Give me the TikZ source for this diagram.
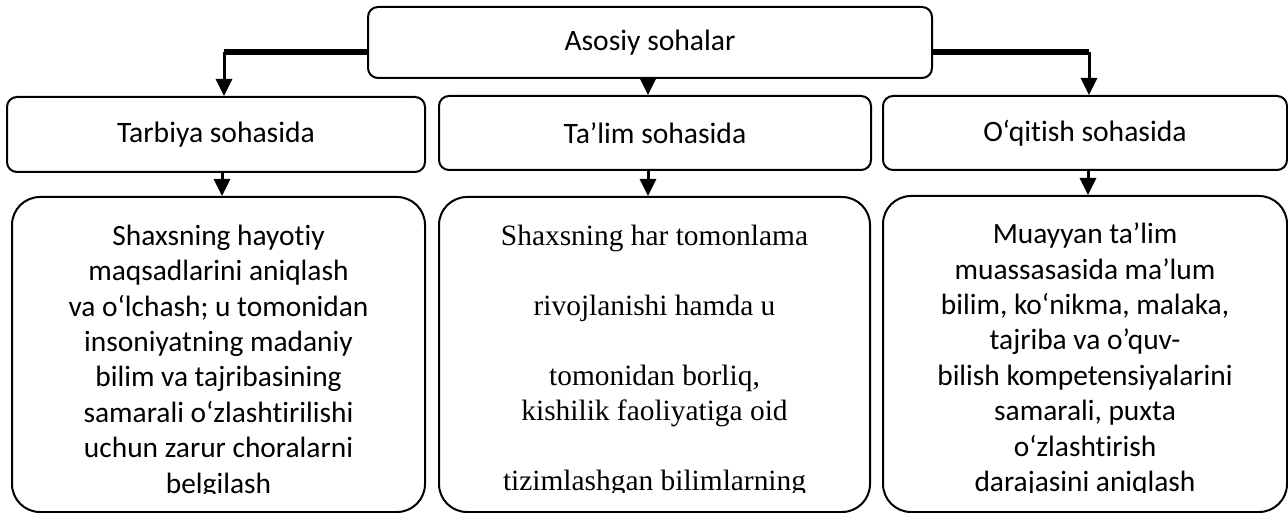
\documentclass[tikz,border=0pt]{standalone}
\usepackage{fontspec}
\setmainfont{Carlito}[Ligatures=NoCommon]
\newfontfamily\serifb{Liberation Serif}
\usetikzlibrary{arrows.meta}
\begin{document}
\begin{tikzpicture}[x=0.5pt,y=-0.5pt,
  box/.style={draw,line width=1pt,rounded corners=5pt,inner sep=0pt,font=\fontsize{14.8}{17}\selectfont},
  bigbox/.style={draw,line width=1pt,rounded corners=14pt,inner sep=0pt},
  body/.style={align=center,inner sep=0pt,anchor=north,font=\fontsize{14.7}{17.7}\selectfont},
  sbody/.style={align=center,inner sep=0pt,anchor=north,font=\serifb\fontsize{14.7}{17.5}\selectfont},
  conn/.style={line width=2.8pt},
  arr/.style={line width=1.5pt,-{Triangle[width=8pt,length=8.5pt]}}]
\useasboundingbox (0,0) rectangle (1288,513);
% top
\node[box,minimum width=282pt,minimum height=35.5pt] (top) at (650,42.5) {Asosiy sohalar};
% second row
\node[box,minimum width=209pt,minimum height=37.5pt] (tar) at (216,134.5) {Tarbiya sohasida};
\node[box,minimum width=216pt,minimum height=37pt] (tal) at (655,133) {Ta’lim sohasida};
\node[box,minimum width=202pt,minimum height=37pt] (oqi) at (1085,133) {O‘qitish sohasida};
% bottom boxes
\node[bigbox,minimum width=206.5pt,minimum height=157.5pt] (b1) at (218.5,354.5) {};
\node[bigbox,minimum width=215.5pt,minimum height=157.5pt] (b2) at (654.5,354.5) {};
\node[bigbox,minimum width=202pt,minimum height=158pt] (b3) at (1085,354) {};
% connectors
\coordinate (lc) at (224,52);
\coordinate (rc) at (1089,52);
\coordinate (mc) at (648,78);
\draw[conn] (top.west |- lc) -- (lc);
\draw[conn] (top.east |- rc) -- (rc);
\draw[arr] (lc) -- (lc |- tar.north);
\draw[arr] (rc) -- (rc |- oqi.north);
\draw[arr] (mc) -- (mc |- tal.north);
\coordinate (a1) at (222,172);
\coordinate (a2) at (648,170);
\coordinate (a3) at (1088,170);
\draw[arr] (a1) -- (a1 |- b1.north);
\draw[arr] (a2) -- (a2 |- b2.north);
\draw[arr] (a3) -- (a3 |- b3.north);
% texts
\begin{scope}
\clip (12,197) rectangle (425,493);
\node[body] (t1) at (218.5,224.5) {Shaxsning hayotiy\\ maqsadlarini aniqlash\\ va o‘lchash; u tomonidan\\ insoniyatning madaniy\\ bilim va tajribasining\\ samarali o‘zlashtirilishi\\ uchun zarur choralarni\\ belgilash};
\end{scope}
\begin{scope}
\clip (439,197) rectangle (870,492);
\node[sbody] (t2) at (654.5,225) {Shaxsning har tomonlama\\[17.5pt] rivojlanishi hamda u\\[17.5pt] tomonidan borliq,\\ kishilik faoliyatiga oid\\[17.5pt] tizimlashgan bilimlarning};
\end{scope}
\begin{scope}
\clip (883,196) rectangle (1287,492);
\node[body] (t3) at (1085,222.5) {Muayyan ta’lim\\ muassasasida ma’lum\\ bilim, ko‘nikma, malaka,\\ tajriba va o’quv-\\ bilish kompetensiyalarini\\ samarali, puxta\\ o‘zlashtirish\\ darajasini aniqlash};
\end{scope}
\end{tikzpicture}
\end{document}
